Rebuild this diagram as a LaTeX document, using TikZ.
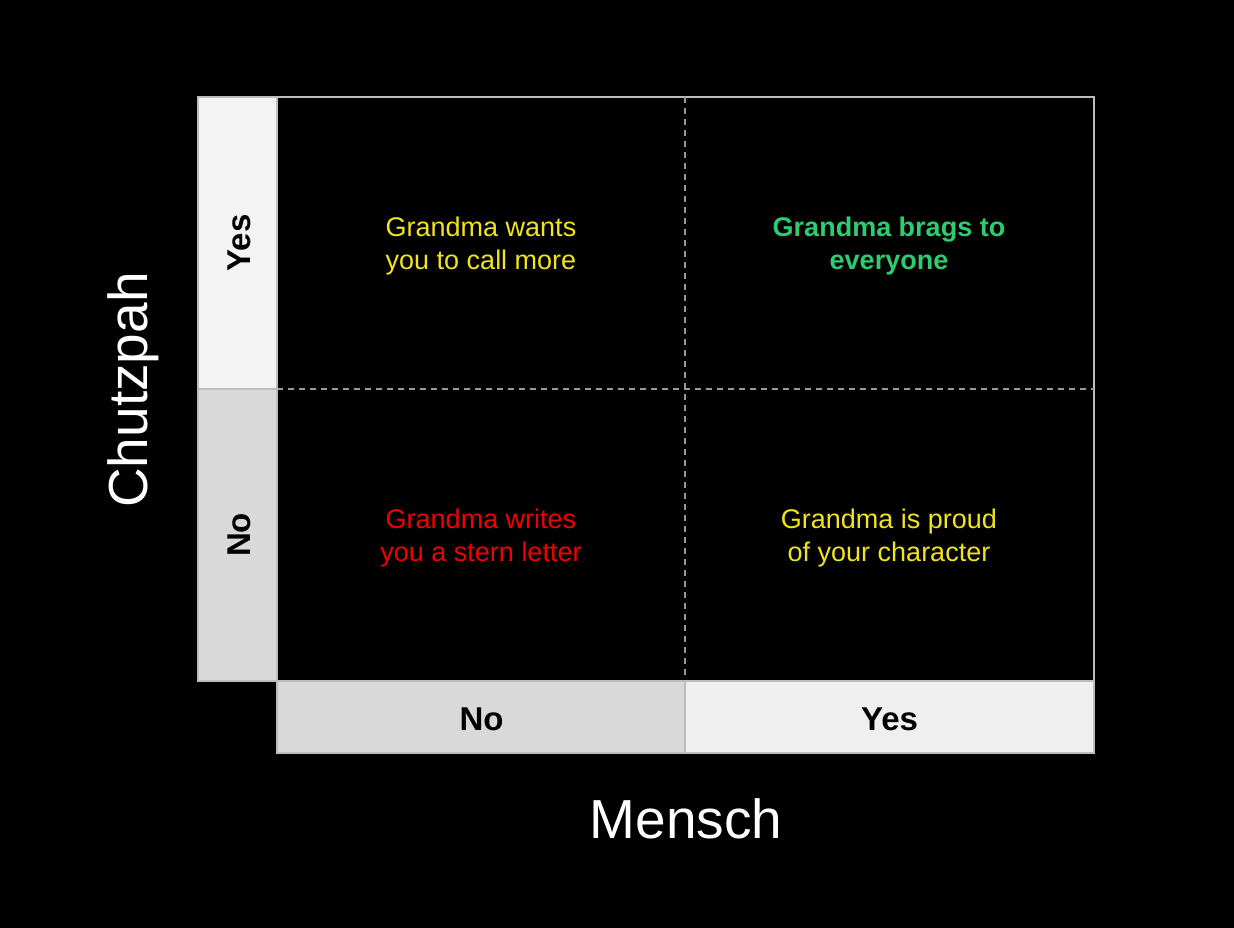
\documentclass[tikz,border=0pt]{standalone}
\usepackage{fontspec}
\setmainfont{Liberation Sans}
\begin{document}
\begin{tikzpicture}[x=1pt,y=-1pt,
  cellbox/.style={draw=bordergray,line width=1.5pt,rectangle,inner sep=0pt},
  celltext/.style={font=\bfseries\fontsize{33}{38}\selectfont,text=black,inner sep=0pt},
  quad/.style={align=center,font=\fontsize{27}{33}\selectfont},
  axislbl/.style={text=white,font=\fontsize{55}{60}\selectfont},
  grid/.style={draw=dashgray,line width=1.3pt,dash pattern=on 6pt off 5pt}]
\definecolor{bordergray}{HTML}{BDBDBD}
\definecolor{dashgray}{HTML}{999999}
\definecolor{lightA}{HTML}{F3F3F3}
\definecolor{lightB}{HTML}{D9D9D9}
\definecolor{lightC}{HTML}{EFEFEF}
\definecolor{qyellow}{HTML}{F2E41C}
\definecolor{qgreen}{HTML}{2ECC71}
\definecolor{qred}{HTML}{F20000}
\fill[black] (0,0) rectangle (1234,928);
\useasboundingbox (0,0) rectangle (1234,928);
% main grid
\node[draw=bordergray,line width=1.5pt,rectangle,minimum width=817pt,minimum height=584pt,inner sep=0pt] (main) at (685.5,389) {};
\coordinate (mtop) at (685,97);
\coordinate (mbot) at (685,681);
\coordinate (mleft) at (277,389);
\coordinate (mright) at (1094,389);
\draw[grid] (mtop) -- (mbot);
\draw[grid] (mleft) -- (mright);
% left labels
\node[cellbox,fill=lightA,minimum width=79pt,minimum height=292pt] (lyes) at (237.5,243) {};
\node[celltext,rotate=90] (lyest) at (239,243) {Yes};
\node[cellbox,fill=lightB,minimum width=79pt,minimum height=292pt] (lno) at (237.5,535) {};
\node[celltext,rotate=90] (lnot) at (239,535) {No};
% bottom labels
\node[cellbox,fill=lightB,minimum width=408pt,minimum height=72pt] (bno) at (481,717) {};
\node[celltext] (bnot) at (481.5,719.5) {No};
\node[cellbox,fill=lightC,minimum width=409pt,minimum height=72pt] (byes) at (889.5,717) {};
\node[celltext] (byest) at (889.5,719.5) {Yes};
% quadrants
\node[quad,text=qyellow] (q1) at (481,246) {Grandma wants\\you to call more};
\node[quad,text=qgreen,font=\bfseries\fontsize{27}{33}\selectfont] (q2) at (889,246) {Grandma brags to\\everyone};
\node[quad,text=qred] (q3) at (481,538) {Grandma writes\\you a stern letter};
\node[quad,text=qyellow] (q4) at (889,538) {Grandma is proud\\of your character};
% axes
\node[axislbl,rotate=90] (chutz) at (133,390) {Chutzpah};
\node[axislbl] (mensch) at (686,819) {Mensch};
\end{tikzpicture}
\end{document}
